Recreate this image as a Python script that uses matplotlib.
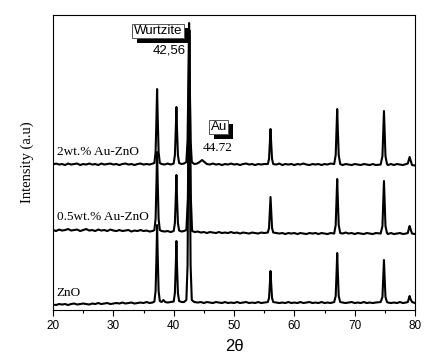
import numpy as np
import matplotlib
matplotlib.use('Agg')
import matplotlib.pyplot as plt
import matplotlib.patheffects as pe

# XRD patterns: (2theta, intensity above own baseline, a.u.)
zno_pts = [
    (20.0, 0.5), (20.5, 0), (21.0, 1), (21.5, 0.5), (22.0, 1), (22.5, 0), (23.0, 1), (23.5, 1.5),
    (24.0, 0.5), (24.5, 1), (25.0, 1.5), (25.5, 1), (26.0, 0.5), (26.5, 1.5), (27.0, 1), (27.5, 2),
    (28.0, 1), (28.5, 1.5), (29.0, 2), (29.5, 1), (30.0, 1.5), (30.5, 2), (31.0, 1.5), (31.5, 2.5),
    (32.0, 1.5), (32.5, 2), (33.0, 2.5), (33.5, 1.5), (34.0, 2), (34.5, 2.5), (35.0, 2), (35.5, 3),
    (36.0, 2), (36.5, 2.5), (36.8, 3.5), (37.0, 14), (37.15, 50), (37.25, 80), (37.35, 50),
    (37.5, 14), (37.7, 4), (38.0, 3), (38.3, 5), (38.6, 3), (39.0, 2.5), (39.5, 3), (40.0, 3.5),
    (40.2, 12), (40.35, 40), (40.45, 64), (40.55, 40), (40.7, 12), (40.9, 4), (41.3, 3), (41.7, 3),
    (42.1, 5), (42.3, 40), (42.45, 170), (42.55, 269), (42.65, 170), (42.8, 40), (43.0, 5),
    (43.4, 3), (44.0, 2.5), (44.5, 3), (45.0, 2), (45.5, 3), (46.0, 2.5), (46.5, 2), (47.0, 3),
    (47.5, 2.5), (48.0, 2), (48.5, 3), (49.0, 2), (49.5, 2.5), (50.0, 2), (50.5, 3), (51.0, 2),
    (51.5, 2.5), (52.0, 3), (52.5, 2), (53.0, 2.5), (53.5, 2), (54.0, 3), (54.5, 2), (55.0, 2.5),
    (55.6, 3), (55.8, 7), (55.95, 22), (56.05, 34), (56.15, 22), (56.3, 7), (56.5, 3), (57.0, 2.5),
    (57.5, 2), (58.0, 2.5), (58.5, 2), (59.0, 3), (59.5, 2), (60.0, 2.5), (60.5, 2), (61.0, 3),
    (61.5, 2), (62.0, 2.5), (62.5, 3), (63.0, 2), (63.5, 2.5), (64.0, 2), (64.5, 3), (65.0, 2),
    (65.5, 2.5), (66.0, 2), (66.6, 3), (66.85, 9), (67.0, 33), (67.1, 52), (67.2, 33), (67.35, 9),
    (67.6, 3), (68.0, 2.5), (68.5, 2), (69.0, 2.5), (69.5, 3), (70.0, 2), (70.5, 2.5), (71.0, 2),
    (71.5, 3), (72.0, 2), (72.5, 2.5), (73.0, 2), (73.5, 2.5), (74.3, 3), (74.6, 8), (74.75, 29),
    (74.85, 45), (74.95, 29), (75.1, 8), (75.35, 3), (75.5, 2.5), (76.0, 2), (76.5, 2.5), (77.0, 2),
    (77.5, 3), (78.0, 2), (78.5, 2.5), (78.8, 3), (79.0, 7), (79.1, 9), (79.25, 6), (79.5, 3),
    (80.0, 2),
]

au05_pts = [
    (20.0, 4), (20.5, 3), (21.0, 4.5), (21.5, 3.5), (22.0, 4), (22.5, 5), (23.0, 3.5), (23.5, 4),
    (24.0, 4.5), (24.5, 3), (25.0, 4), (25.5, 5), (26.0, 3.5), (26.5, 4), (27.0, 3), (27.5, 4.5),
    (28.0, 3.5), (28.5, 4), (29.0, 3), (29.5, 4.5), (30.0, 3.5), (30.5, 3), (31.0, 4), (31.5, 3),
    (32.0, 3.5), (32.5, 4), (33.0, 2.5), (33.5, 3.5), (34.0, 3), (34.5, 4), (35.0, 3), (35.5, 3.5),
    (36.0, 2.5), (36.5, 3), (36.8, 4), (37.0, 15), (37.15, 52), (37.25, 82), (37.35, 52),
    (37.5, 15), (37.7, 4), (38.0, 3), (38.5, 2.5), (39.0, 3), (39.5, 2), (40.0, 3), (40.2, 11),
    (40.35, 37), (40.45, 59), (40.55, 37), (40.7, 11), (40.9, 3.5), (41.3, 2.5), (41.7, 3),
    (42.1, 4), (42.35, 35), (42.5, 130), (42.6, 204), (42.7, 130), (42.85, 35), (43.05, 3),
    (43.5, 2), (44.0, 2.5), (44.5, 1.5), (45.0, 2), (45.5, 1), (46.0, 2), (46.5, 1.5), (47.0, 1),
    (47.5, 2), (48.0, 1), (48.5, 1.5), (49.0, 1), (49.5, 2), (50.0, 1), (50.5, 1.5), (51.0, 0.5),
    (51.5, 1.5), (52.0, 1), (52.5, 0.5), (53.0, 1.5), (53.5, 1), (54.0, 0.5), (54.5, 1.5),
    (55.0, 1), (55.6, 1.5), (55.8, 6), (55.95, 24), (56.05, 37), (56.15, 24), (56.3, 6),
    (56.5, 1.5), (57.0, 1), (57.5, 0.5), (58.0, 1), (58.5, 0), (59.0, 1), (59.5, 0.5), (60.0, 1),
    (60.5, 0), (61.0, 1), (61.5, 0.5), (62.0, 0), (62.5, 1), (63.0, 0.5), (63.5, 1), (64.0, 0),
    (64.5, 1), (65.0, 0.5), (65.5, 0), (66.0, 1), (66.6, 0.5), (66.85, 9), (67.0, 35), (67.1, 55),
    (67.2, 35), (67.35, 9), (67.6, 1), (68.0, 0.5), (68.5, 1.5), (69.0, 0.5), (69.5, 1), (70.0, 0),
    (70.5, 1), (71.0, 0.5), (71.5, 0), (72.0, 1), (72.5, 0.5), (73.0, 0), (73.5, 1), (74.3, 0.5),
    (74.6, 8), (74.75, 34), (74.85, 53), (74.95, 34), (75.1, 8), (75.35, 1), (75.5, 0), (76.0, 1),
    (76.5, 0), (77.0, 0.5), (77.5, 1), (78.0, 0), (78.5, 0.5), (78.8, 1), (79.0, 6), (79.1, 8),
    (79.25, 5), (79.5, 0.5), (80.0, 0),
]

au2_pts = [
    (20.0, 0.5), (20.5, 1.5), (21.0, 0.5), (21.5, 1), (22.0, 0), (22.5, 1.5), (23.0, 0.5), (23.5, 1),
    (24.0, 1.5), (24.5, 0), (25.0, 1), (25.5, 0.5), (26.0, 1.5), (26.5, 0.5), (27.0, 1), (27.5, 0),
    (28.0, 1.5), (28.5, 0.5), (29.0, 1), (29.5, 1.5), (30.0, 0.5), (30.5, 1), (31.0, 0), (31.5, 1),
    (32.0, 1.5), (32.5, 0.5), (33.0, 1), (33.5, 0), (34.0, 1), (34.5, 1.5), (35.0, 0.5), (35.5, 1),
    (36.0, 0.5), (36.5, 1.5), (36.8, 2), (37.0, 13), (37.15, 48), (37.25, 76), (37.35, 48),
    (37.5, 13), (37.7, 2), (38.0, 1), (38.5, 0.5), (39.0, 1.5), (39.5, 0.5), (40.0, 1.5),
    (40.2, 10), (40.35, 36), (40.45, 58), (40.55, 36), (40.7, 10), (40.9, 2), (41.3, 1), (41.7, 1.5),
    (42.1, 3), (42.3, 25), (42.45, 90), (42.55, 142), (42.65, 90), (42.8, 25), (43.0, 3),
    (43.4, 1), (43.9, 1.5), (44.3, 3), (44.7, 5), (45.1, 3), (45.5, 1), (46.0, 0.5), (46.5, 1.5),
    (47.0, 0.5), (47.5, 1), (48.0, 0), (48.5, 1), (49.0, 0.5), (49.5, 1.5), (50.0, 0.5), (50.5, 1),
    (51.0, 0), (51.5, 1), (52.0, 1.5), (52.5, 0.5), (53.0, 1), (53.5, 0), (54.0, 1), (54.5, 0.5),
    (55.0, 1), (55.6, 1), (55.8, 6), (55.95, 23), (56.05, 36), (56.15, 23), (56.3, 6), (56.5, 1),
    (57.0, 0.5), (57.5, 1.5), (58.0, 0), (58.5, 1), (59.0, 0.5), (59.5, 1), (60.0, 0), (60.5, 1),
    (61.0, 0.5), (61.5, 1.5), (62.0, 0.5), (62.5, 0), (63.0, 1), (63.5, 0.5), (64.0, 1), (64.5, 0),
    (65.0, 1), (65.5, 0.5), (66.0, 1.5), (66.6, 1), (66.85, 10), (67.0, 36), (67.1, 56), (67.2, 36),
    (67.35, 10), (67.6, 1), (68.0, 0), (68.5, 1), (69.0, 0.5), (69.5, 0), (70.0, 1), (70.5, 0.5),
    (71.0, 0), (71.5, 1), (72.0, 0.5), (72.5, 0), (73.0, 1), (73.5, 0), (74.3, 0.5), (74.6, 9),
    (74.75, 35), (74.85, 54), (74.95, 35), (75.1, 9), (75.35, 1), (75.5, 0), (76.0, 1), (76.5, 0),
    (77.0, 1), (77.5, 0.5), (78.0, 0), (78.5, 1), (78.8, 1.5), (79.0, 6), (79.1, 8), (79.25, 5),
    (79.5, 0), (80.0, -0.5),
]

series_names = ['ZnO', '0.5wt.% Au-ZnO', '2wt.% Au-ZnO']
series_pts = [zno_pts, au05_pts, au2_pts]
offsets = [5, 76, 145]   # vertical stacking of the patterns

SERIF = ['Liberation Serif', 'DejaVu Serif']
SANS = ['Liberation Sans', 'DejaVu Sans']

fig = plt.figure(figsize=(4.30, 3.58), dpi=100)
ax = fig.add_axes([0.1233, 0.134, 0.8419, 0.824])

for pts, off in zip(series_pts, offsets):
    d = np.array(pts)
    ax.plot(d[:, 0], d[:, 1] + off, color='black', lw=1.5)

ax.set_xlim(20, 80)
ax.set_ylim(0, 295)
ax.set_xticks(np.arange(20, 81, 10))
ax.set_xticks(np.arange(25, 80, 10), minor=True)
ax.tick_params(axis='x', which='major', direction='out', length=4, width=0.8, labelsize=8.5, pad=3)
ax.tick_params(axis='x', which='minor', direction='out', length=2.5, width=0.8)
ax.set_yticks([])
for lab in ax.get_xticklabels():
    lab.set_family(SANS)
for s in ax.spines.values():
    s.set_linewidth(0.8)

ax.set_xlabel('2θ', family=SANS, fontsize=12, labelpad=5)
ax.set_ylabel('Intensity (a.u)', family=SERIF, fontsize=10.5, labelpad=14)

# series labels
ax.text(20.6, 158, series_names[2], family=SERIF, fontsize=9.5, va='center', ha='left')
ax.text(20.6, 93, series_names[1], family=SERIF, fontsize=9.5, va='center', ha='left')
ax.text(20.6, 17, series_names[0], family=SERIF, fontsize=9.5, va='center', ha='left')

# peak annotations
shadow = [pe.withSimplePatchShadow(offset=(3, -3), shadow_rgbFace='black', alpha=1.0)]
t = ax.text(37.4, 279, 'Wurtzite', family=SANS, fontsize=9.5, ha='center', va='center',
            bbox=dict(boxstyle='square,pad=0.1', fc='white', ec='#555555', lw=0.7))
t.get_bbox_patch().set_path_effects(shadow)
ax.text(39.2, 260, '42,56', family=SANS, fontsize=9.5, ha='center', va='center')

t = ax.text(47.5, 183, 'Au', family=SANS, fontsize=9.5, ha='center', va='center',
            bbox=dict(boxstyle='square,pad=0.1', fc='white', ec='#555555', lw=0.7))
t.get_bbox_patch().set_path_effects(shadow)
ax.text(47.35, 162, '44.72', family=SERIF, fontsize=9.5, ha='center', va='center')

fig.savefig('out.png', dpi=100)
